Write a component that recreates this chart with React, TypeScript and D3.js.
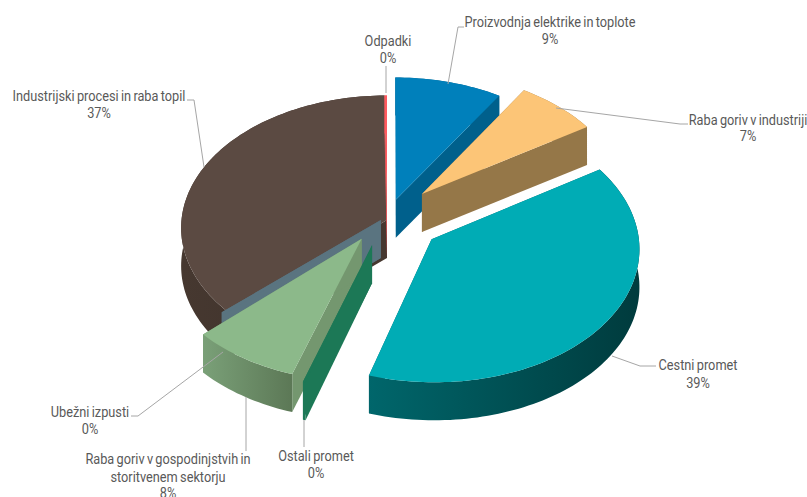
import React from "react";
import * as d3 from "d3";

const categories = ["Proizvodnja elektrike in toplote", "Raba goriv v industriji", "Cestni promet", "Ostali promet", "Raba goriv v gospodinjstvih in storitvenem sektorju", "Ubežni izpusti", "Industrijski procesi in raba topil", "Odpadki"];
const values = [9, 7, 38.8, 0.2, 8, 0.3, 36.5, 0.2];
const explodeU = [0.043, 0.172, 0.215, -0.072, -0.122, -0.03, 0, 0];
const explodeV = [0.154, 0.2, -0.145, -0.19, -0.14, 0.0, 0, 0];
const topColors = ["#0080bb", "#fcc577", "#00acb5", "#1c7856", "#8cb98a", "#5a7480", "#5b4a42", "#ff5a5f"];
const sideColors = ["#00608c", "#957748", "#00666b", "#1c7856", "#74976f", "#5a7480", "#463830", "#ff5a5f"];
const wallFrom = ["#00608c", "#957748", "#00666b", "#1c7856", "#7aa078", "#5a7480", "#463830", "#ff5a5f"];
const wallTo = ["#00608c", "#957748", "#003b3d", "#1c7856", "#5c7856", "#5a7480", "#3c2f29", "#ff5a5f"];
const paintOrder = [6, 5, 7, 0, 1, 2, 4, 3];

const labelLines = [
  { name: ["Proizvodnja elektrike in toplote", "9%"], x: 550, y: [27, 44] },
  { name: ["Raba goriv v industriji", "7%"], x: 748, y: [125, 141] },
  { name: ["Cestni promet", "39%"], x: 698, y: [370, 388] },
  { name: ["Ostali promet", "0%"], x: 316, y: [461, 478] },
  { name: ["Raba goriv v gospodinjstvih in", "storitvenem sektorju", "8%"], x: 168, y: [464, 482, 498] },
  { name: ["Ubežni izpusti", "0%"], x: 90, y: [417, 434] },
  { name: ["Industrijski procesi in raba topil", "37%"], x: 99, y: [101, 118] },
  { name: ["Odpadki", "0%"], x: 388, y: [46, 63] },
];
const leaders: [number, number][][] = [
  [[448, 84], [458, 27], [464, 27]],
  [[556, 108], [680, 124], [688, 124]],
  [[612, 356], [640, 366], [656, 366]],
  [[304, 420], [304, 447]],
  [[246, 397], [246, 451]],
  [[223, 352], [138, 416], [131, 416]],
  [[204, 167], [194, 100], [187, 100]],
  [[386, 66], [386, 93]],
];

const W = 807, H = 497;
const cx = 387, cy = 220, rx = 205.5, ry = 132, k = 0.06, depth = 38;

const px = d3.scaleLinear().domain([-1, 1]).range([cx - rx, cx + rx]);
const py = d3.scaleLinear().domain([-1, 1]).range([cy + ry, cy - ry]);
type P = [number, number];
function project(u: number, v: number): P {
  const s = 1 / (1 + k * v);
  return [px(u * s), py(v * s)];
}
const line = d3.line<P>().x((d) => d[0]).y((d) => d[1]);
const shift = (p: P): P => [p[0], p[1] + depth];

const arcs = d3.pie<number>().sort(null).startAngle(0).endAngle(2 * Math.PI).value((d) => d)(values);

const slices = arcs.map((a, i) => {
  const ou = explodeU[i];
  const ov = explodeV[i];
  const at = (t: number): P => project(ou + Math.sin(t), ov + Math.cos(t));
  const apex = project(ou, ov);
  const n = Math.max(2, Math.ceil((a.endAngle - a.startAngle) * 40));
  const rim = d3.range(n + 1).map((j) => at(a.startAngle + ((a.endAngle - a.startAngle) * j) / n));
  const first = rim[0], last = rim[rim.length - 1];
  return {
    i,
    top: line([apex, ...rim])! + "Z",
    wall: line([...rim, ...rim.slice().reverse().map(shift)])! + "Z",
    startWall: line([apex, first, shift(first), shift(apex)])! + "Z",
    endWall: line([apex, last, shift(last), shift(apex)])! + "Z",
    minX: d3.min(rim, (p) => p[0])!,
    maxX: d3.max(rim, (p) => p[0])!,
  };
});

export default function App() {
  return (
    <svg width={W} height={H} style={{ position: "absolute", left: 0, top: 0, display: "block", background: "#fff" }}>
      <defs>
        {slices.map((s) => (
          <linearGradient key={s.i} id={`w${s.i}`} gradientUnits="userSpaceOnUse" x1={s.minX} x2={s.maxX} y1={0} y2={0}>
            <stop offset="0%" stopColor={wallFrom[s.i]} />
            <stop offset="100%" stopColor={wallTo[s.i]} />
          </linearGradient>
        ))}
      </defs>
      {paintOrder.map((idx) => {
        const s = slices[idx];
        return (
          <g key={idx}>
            <path d={s.startWall} fill={sideColors[idx]} />
            <path d={s.endWall} fill={sideColors[idx]} />
            <path d={s.wall} fill={`url(#w${idx})`} />
            <path d={s.top} fill={topColors[idx]} />
          </g>
        );
      })}
      {leaders.map((l, i) => (
        <path key={i} d={line(l)!} fill="none" stroke="#a6a6a6" strokeWidth={1} />
      ))}
      <g fontFamily="Roboto, sans-serif" fontSize={15} fill="#595959" textAnchor="middle" wordSpacing={-1}>
        {labelLines.map((l, i) =>
          l.name.map((t, j) => (
            <text key={`${i}-${j}`} transform={`translate(${l.x},${l.y[j] - 0.5}) scale(0.85,1)`}>{t}</text>
          ))
        )}
      </g>
    </svg>
  );
}
